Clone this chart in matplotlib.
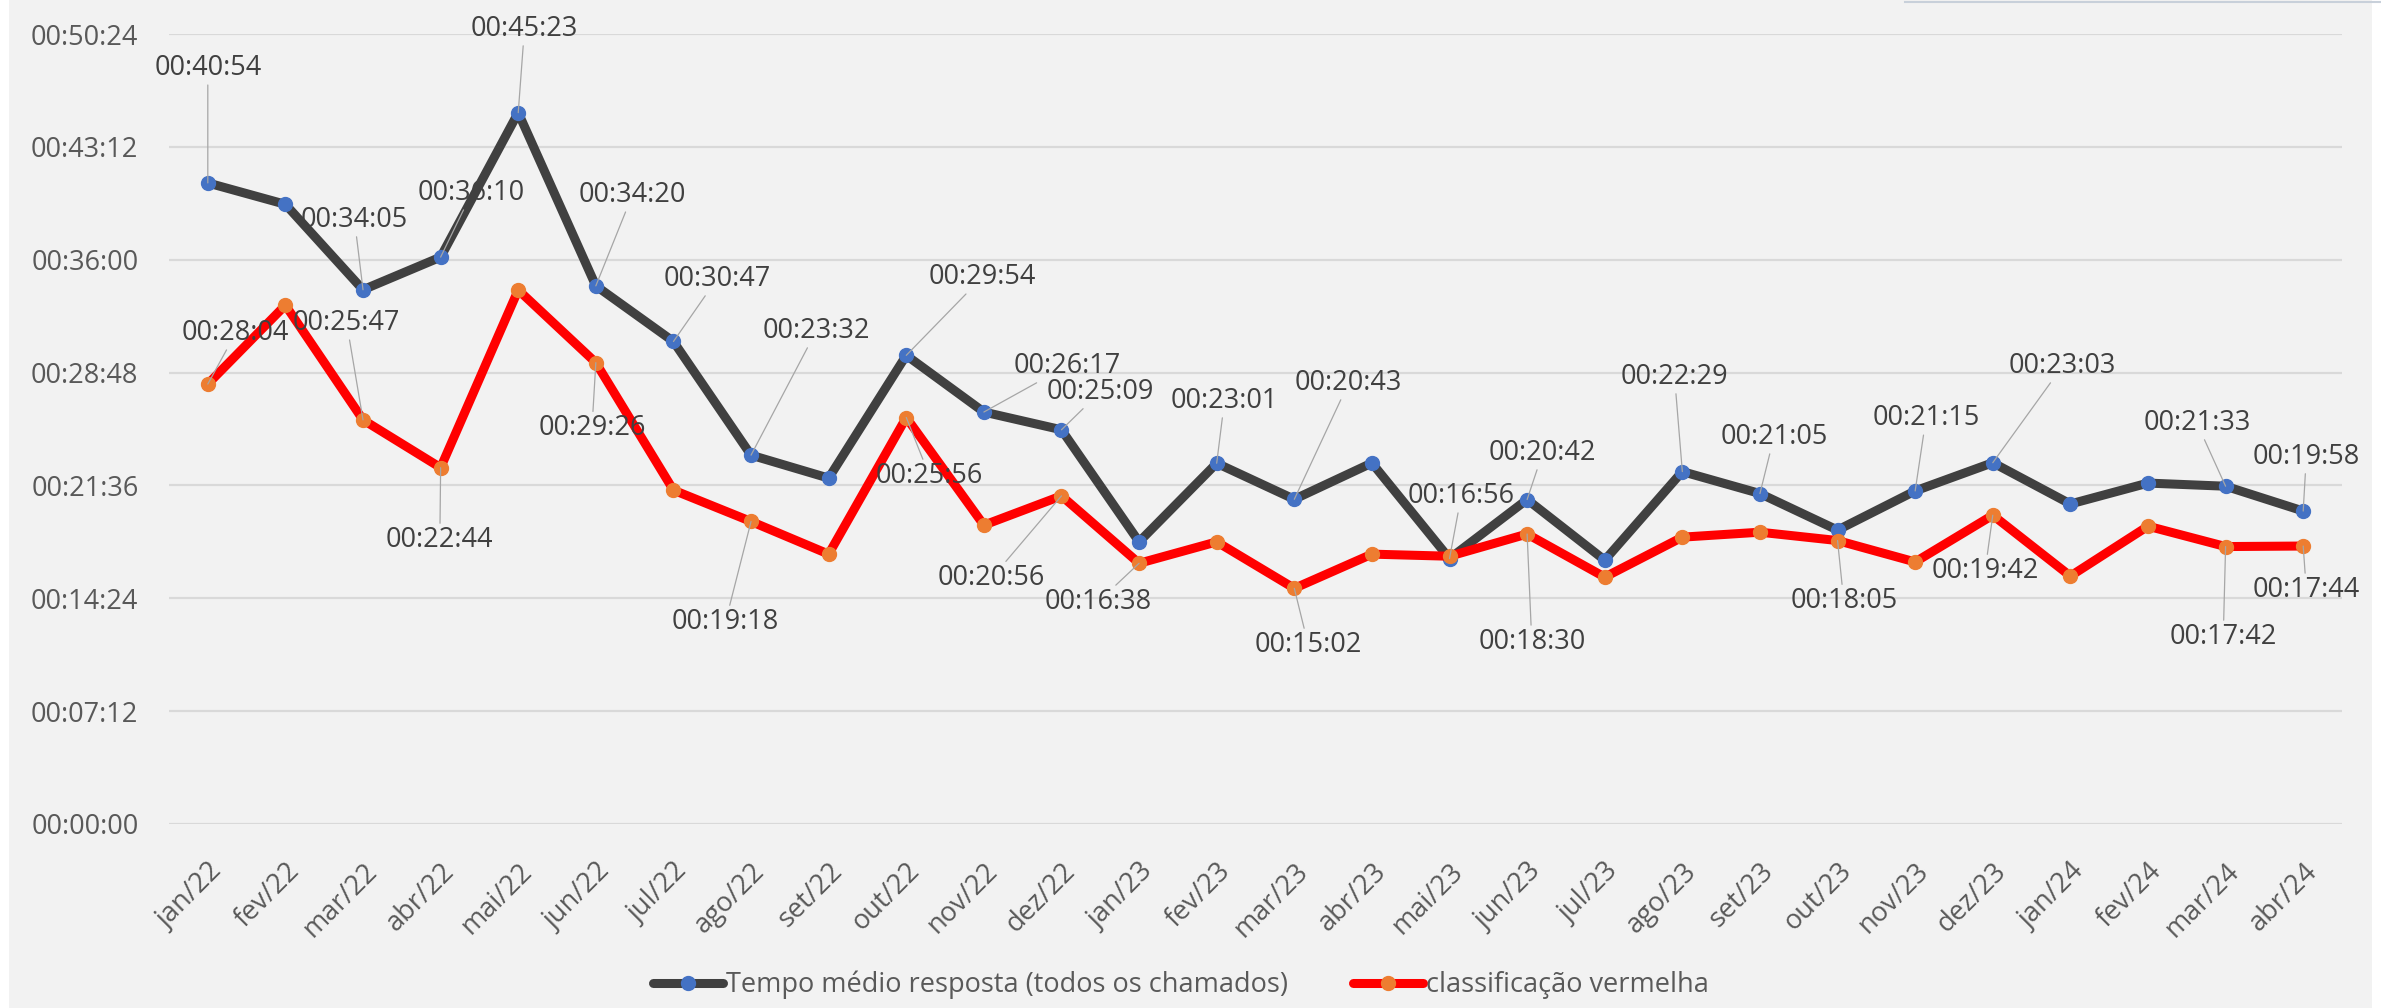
import matplotlib
matplotlib.use("Agg")
import matplotlib.pyplot as plt
from matplotlib.lines import Line2D
from matplotlib.patches import Rectangle
from matplotlib.ticker import FixedLocator, FuncFormatter

plt.rcParams['font.family'] = ['Open Sans', 'DejaVu Sans']

# ---------------- data ----------------
months = ["jan/22", "fev/22", "mar/22", "abr/22", "mai/22", "jun/22", "jul/22",
          "ago/22", "set/22", "out/22", "nov/22", "dez/22", "jan/23", "fev/23",
          "mar/23", "abr/23", "mai/23", "jun/23", "jul/23", "ago/23", "set/23",
          "out/23", "nov/23", "dez/23", "jan/24", "fev/24", "mar/24", "abr/24"]

# values as mm:ss
tempo_medio = ["40:54", "39:32", "34:05", "36:10", "45:23", "34:20", "30:47",
               "23:32", "22:04", "29:54", "26:17", "25:09", "18:00", "23:01",
               "20:43", "23:02", "16:56", "20:42", "16:50", "22:29", "21:05",
               "18:45", "21:15", "23:03", "20:25", "21:45", "21:33", "19:58"]

vermelha = ["28:04", "33:06", "25:47", "22:44", "34:04", "29:26", "21:18",
            "19:18", "17:13", "25:56", "19:04", "20:56", "16:38", "18:00",
            "15:02", "17:13", "17:05", "18:30", "15:45", "18:18", "18:37",
            "18:05", "16:43", "19:42", "15:49", "19:00", "17:42", "17:44"]

series_names = ["Tempo médio resposta (todos os chamados)", "classificação vermelha"]

y_max = "50:24"
y_step = "07:12"


def to_sec(s):
    m, sec = s.split(":")
    return int(m) * 60 + int(sec)


def fmt(sec, pos=None):
    sec = int(round(sec))
    return "%02d:%02d:%02d" % (sec // 3600, (sec % 3600) // 60, sec % 60)


v_black = [to_sec(v) for v in tempo_medio]
v_red = [to_sec(v) for v in vermelha]

# label placements (layout): index -> (x in category units, y in seconds) of label centre
black_labels = {0: (0.0, 2893), 2: (1.89, 2312), 3: (3.4, 2415), 4: (4.08, 3043),
                5: (5.47, 2407), 6: (6.56, 2086), 7: (7.84, 1887), 9: (9.98, 2093),
                10: (11.07, 1753), 11: (11.5, 1654), 13: (13.1, 1619), 14: (14.7, 1688),
                16: (16.15, 1255), 17: (17.2, 1420), 19: (18.9, 1711), 20: (20.18, 1481),
                22: (22.14, 1553), 23: (23.9, 1753), 26: (25.63, 1535), 27: (27.04, 1405)}
red_labels = {0: (0.36, 1879), 2: (1.79, 1917), 3: (2.99, 1087), 5: (4.95, 1515),
              7: (6.67, 773), 9: (9.3, 1332), 11: (10.1, 941), 12: (11.47, 850),
              14: (14.18, 685), 17: (17.06, 697), 21: (21.08, 853), 23: (22.9, 968),
              26: (25.97, 716), 27: (27.04, 896)}

# ---------------- figure ----------------
W, H = 2381, 1008
fig = plt.figure(figsize=(W / 100, H / 100), dpi=100, facecolor="white")
fig.patches.append(Rectangle((9 / W, 0), (2372 - 9) / W, 1, transform=fig.transFigure,
                             facecolor="#F2F2F2", edgecolor="none", zorder=-10))
fig.lines.append(Line2D([1905 / W, 1.0], [1 - 1.5 / H, 1 - 1.5 / H], transform=fig.transFigure,
                        color="#C8D0DA", lw=1.5))

ax = fig.add_axes([169 / W, 1 - 824 / H, (2342 - 169) / W, (824 - 34) / H])
ax.set_facecolor("none")

x = list(range(len(months)))
ln1, = ax.plot(x, v_black, color="#404040", lw=6.5, marker="o", markersize=10,
               markerfacecolor="#4472C4", markeredgecolor="#4472C4",
               solid_joinstyle="round", solid_capstyle="round", zorder=3)
ln2, = ax.plot(x, v_red, color="#FF0000", lw=6.5, marker="o", markersize=10,
               markerfacecolor="#ED7D31", markeredgecolor="#ED7D31",
               solid_joinstyle="round", solid_capstyle="round", zorder=4)

ax.set_xlim(-0.5, len(months) - 0.5)
ymax = to_sec(y_max)
step = to_sec(y_step)
ax.set_ylim(0, ymax)
ax.yaxis.set_major_locator(FixedLocator(list(range(0, ymax + 1, step))))
ax.yaxis.set_major_formatter(FuncFormatter(fmt))
ax.grid(axis="y", color="#D9D9D9", lw=1.6, zorder=0)
ax.set_axisbelow(True)
for s in ax.spines.values():
    s.set_visible(False)
ax.tick_params(axis="both", length=0, colors="#595959", labelsize=19.5)
ax.tick_params(axis="y", pad=22)
ax.set_xticks(x)
ax.set_xticklabels(months, rotation=45, ha="right", rotation_mode="anchor")
ax.tick_params(axis="x", pad=24)

for vals, labs in ((v_black, black_labels), (v_red, red_labels)):
    for i, (lx, ly) in labs.items():
        ax.annotate(fmt(vals[i]), xy=(i, vals[i]), xytext=(lx, ly), textcoords="data",
                    ha="center", va="center", fontsize=19.5, color="#404040", zorder=6,
                    arrowprops=dict(arrowstyle="-", color="#A6A6A6", lw=0.9,
                                    shrinkA=0, shrinkB=0))

fig.legend([ln1, ln2], series_names, loc="center", bbox_to_anchor=(1181 / W, 1 - 985 / H),
           ncol=2, frameon=False, fontsize=19.5, labelcolor="#595959",
           handlelength=2.6, handletextpad=0.1, columnspacing=2.4, numpoints=1)

fig.savefig("out.png", dpi=100, facecolor=fig.get_facecolor())
